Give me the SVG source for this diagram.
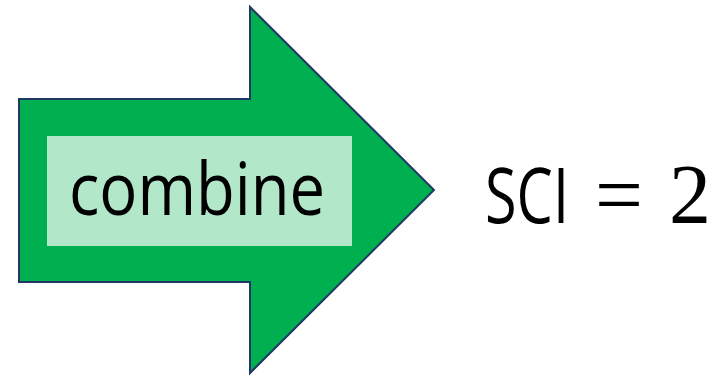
<svg xmlns="http://www.w3.org/2000/svg" width="713" height="377" viewBox="0 0 713 377">
  <style>
    .arrow { fill: #00b050; stroke: #1f3864; stroke-width: 2; stroke-linejoin: miter; }
    .panel { fill: #b3e7ca; }
    .sans { font-family: "Open Sans", "Noto Sans", "Liberation Sans", sans-serif; fill: #000; }
    .math { font-family: "Liberation Serif", "DejaVu Serif", serif; fill: #000; }
  </style>
  <rect width="713" height="377" fill="#ffffff"/>
  <!-- block arrow with its label panel -->
  <g id="combine-arrow">
    <polygon class="arrow" points="19,99 250,99 250,7 434,190 250,373 250,282 19,282"/>
    <rect class="panel" x="47" y="136" width="305" height="110"/>
    <text class="sans" x="69" y="215" font-size="73" textLength="256" lengthAdjust="spacingAndGlyphs">combine</text>
  </g>
  <!-- result -->
  <g id="result">
    <text class="sans" x="485" y="223" font-size="77" textLength="84" lengthAdjust="spacingAndGlyphs">SCI</text>
    <text class="math" x="595" y="224" font-size="86" textLength="48" lengthAdjust="spacingAndGlyphs">=</text>
    <text class="math" x="669" y="223" font-size="84">2</text>
  </g>
</svg>
